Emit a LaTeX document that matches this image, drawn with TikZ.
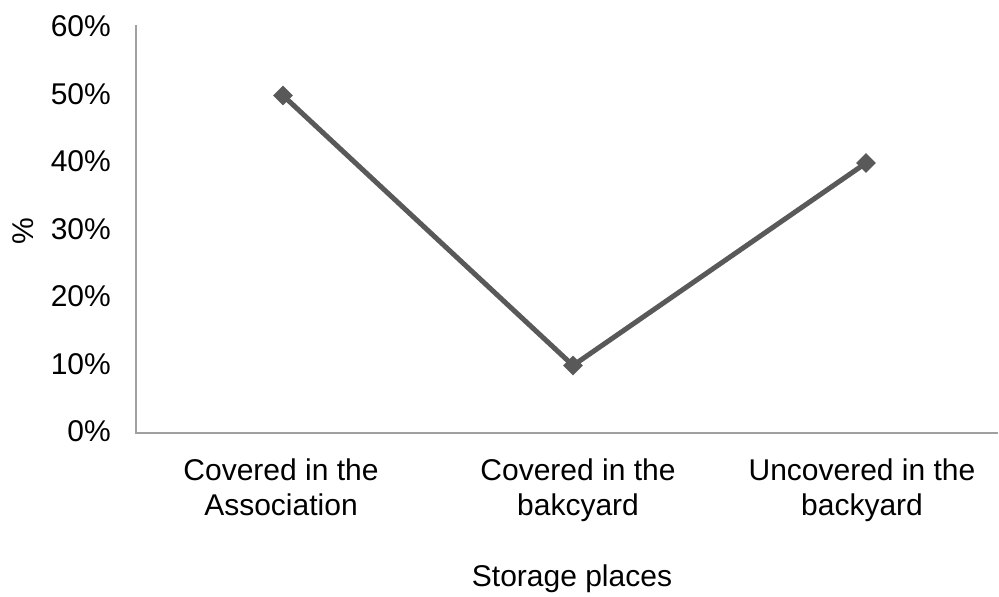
\documentclass[tikz,border=0pt]{standalone}
\usepackage{fontspec}
\setmainfont{Liberation Sans}
\usetikzlibrary{shapes.geometric}
\definecolor{LineGray}{RGB}{89,89,89}
\definecolor{AxisGray}{RGB}{160,160,160}

\begin{document}
\begin{tikzpicture}[
    x=1pt, y=1pt,
    axis/.style   = {draw=AxisGray, line width=1.4pt},
    series/.style = {draw=LineGray, line width=5pt},
    pt/.style     = {diamond, fill=LineGray, inner sep=0pt,
                     minimum width=20pt, minimum height=20pt},
    tlab/.style   = {anchor=base east, inner sep=0pt,
                     font=\fontsize{30}{35}\selectfont},
    clab/.style   = {anchor=north, align=center, inner sep=0pt,
                     font=\fontsize{30}{35}\selectfont},
  ]
  \useasboundingbox (0,0) rectangle (999,597);

  % axes
  \coordinate (top)    at (136,572);
  \coordinate (orig)   at (136,164);
  \coordinate (xend)   at (998,164);
  \draw[axis] (top) -- (orig) -- (xend);

  \foreach \v [count=\i from 0] in {0,10,...,60}
    \node[tlab] (y\i) at (111,155+67.5*\i) {\v\%};

  % data
  \coordinate (assoc) at (283,501.5);
  \coordinate (bakc)  at (573,231.5);
  \coordinate (back)  at (866,434);
  \draw[series] (assoc) -- (bakc) -- (back);
  \foreach \p in {assoc,bakc,back}
    \node[pt] (m-\p) at (\p) {};

  % labels
  \node[clab] (c1) at (281,138) {Covered in the\\Association};
  \node[clab] (c2) at (578,138) {Covered in the\\bakcyard};
  \node[clab] (c3) at (862,138) {Uncovered in the\\backyard};
  \node[tlab, anchor=center, rotate=90] (ytitle) at (23,366) {\%};
  \node[tlab, anchor=base] (xtitle) at (572,10) {Storage places};

\end{tikzpicture}
\end{document}
